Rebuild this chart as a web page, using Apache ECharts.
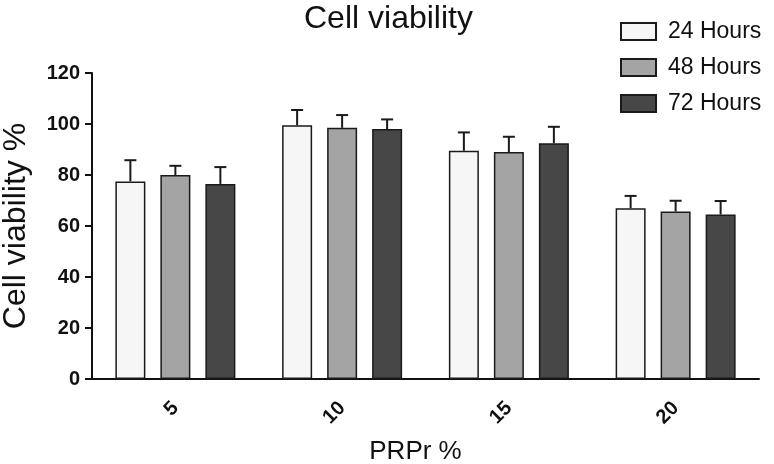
<!DOCTYPE html>
<html>
<head>
<meta charset="utf-8">
<script src="https://cdn.jsdelivr.net/npm/echarts@6/dist/echarts.min.js"></script>
<style>html,body{margin:0;padding:0;background:#fff}#c{width:774px;height:464px}</style>
</head>
<body>
<div id="c"></div>
<script>
const categories = ['5', '10', '15', '20'];
const seriesNames = ['24 Hours', '48 Hours', '72 Hours'];
const values24 = [77.5, 99.5, 89.5, 67];
const values48 = [80, 98.5, 89, 65.7];
const values72 = [76.5, 98, 92.5, 64.5];
const err24 = [8.3, 6, 7.2, 4.8];
const err48 = [3.6, 5, 6, 4.2];
const err72 = [6.6, 3.8, 6.4, 5.3];
const yTicks = [0, 20, 40, 60, 80, 100, 120];

const allValues = [values24, values48, values72];
const allErr = [err24, err48, err72];
const colors = ['#f6f6f6', '#a4a4a4', '#474747'];
const BAR_W = 30, BAR_GAP = 15, CAP = 12;
const FONT = 'Liberation Sans, Arial, sans-serif';

const chart = echarts.init(document.getElementById('c'), null, {renderer: 'canvas'});

const barSeries = seriesNames.map((name, i) => ({
  name: name,
  type: 'bar',
  data: allValues[i],
  barWidth: BAR_W,
  barGap: (BAR_GAP / BAR_W * 100) + '%',
  itemStyle: {color: colors[i], borderColor: '#1a1a1a', borderWidth: 1.5},
  z: 2
}));

const errSeries = seriesNames.map((name, i) => ({
  type: 'custom',
  name: name + ' err',
  data: allValues[i].map((v, k) => [k, v, allErr[i][k]]),
  encode: {x: 0, y: 1},
  z: 5,
  silent: true,
  renderItem: function (params, api) {
    const cat = api.value(0), v = api.value(1), e = api.value(2);
    const off = (i - 1) * (BAR_W + BAR_GAP);
    const b = api.coord([cat, v]);
    const t = api.coord([cat, v + e]);
    const x = b[0] + off;
    const style = {stroke: '#1a1a1a', lineWidth: 2};
    return {
      type: 'group',
      children: [
        {type: 'line', shape: {x1: x, y1: b[1], x2: x, y2: t[1]}, style: style},
        {type: 'line', shape: {x1: x - CAP / 2, y1: t[1], x2: x + CAP / 2, y2: t[1]}, style: style}
      ]
    };
  }
}));

chart.setOption({
  animation: false,
  backgroundColor: '#fff',
  title: {
    text: 'Cell viability',
    left: 299, top: -2,
    textStyle: {fontFamily: FONT, fontSize: 32, fontWeight: 'normal', color: '#111'}
  },
  legend: {
    data: seriesNames,
    orient: 'vertical',
    left: 615, top: 15,
    itemWidth: 35, itemHeight: 17, itemGap: 13,
    icon: 'rect',
    textStyle: {fontFamily: FONT, fontSize: 23, color: '#111', lineHeight: 22, padding: [0, 0, 0, 7]}
  },
  grid: {left: 92, right: 15, top: 73, bottom: 85, containLabel: false, outerBoundsMode: 'none'},
  xAxis: {
    type: 'category',
    data: categories,
    name: 'PRPr %',
    nameLocation: 'middle',
    nameGap: 60,
    nameTextStyle: {fontFamily: FONT, fontSize: 26, color: '#111', padding: [0, 20, 0, 0]},
    axisLine: {lineStyle: {color: '#111', width: 2}},
    axisTick: {alignWithLabel: true, length: 7, lineStyle: {color: '#111', width: 2}},
    axisLabel: {
      rotate: 45, margin: 26,
      fontFamily: FONT, fontSize: 20, fontWeight: 'bold', color: '#111'
    }
  },
  yAxis: {
    type: 'value',
    min: yTicks[0], max: yTicks[yTicks.length - 1], interval: yTicks[1] - yTicks[0],
    name: 'Cell viability %',
    nameLocation: 'middle',
    nameGap: 60,
    nameTextStyle: {fontFamily: FONT, fontSize: 32, color: '#111'},
    axisLine: {show: true, lineStyle: {color: '#111', width: 2}},
    axisTick: {show: true, length: 7, lineStyle: {color: '#111', width: 2}},
    splitLine: {show: false},
    axisLabel: {margin: 12, fontFamily: FONT, fontSize: 20, fontWeight: 'bold', color: '#111'}
  },
  series: barSeries.concat(errSeries)
});
</script>
</body>
</html>
